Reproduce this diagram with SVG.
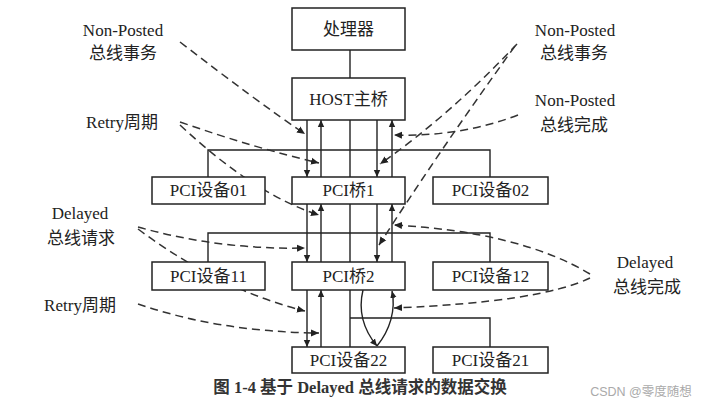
<svg xmlns="http://www.w3.org/2000/svg" width="703" height="405" viewBox="0 0 703 405">
<style>
.box{fill:#fff;stroke:#222;stroke-width:1.5}
.ln{fill:none;stroke:#222;stroke-width:1.4}
.ds{fill:none;stroke:#333;stroke-width:1.5;stroke-dasharray:8 5}
.t{font-family:"Liberation Serif","Noto Sans CJK SC",serif;font-size:17px;fill:#222;text-anchor:middle}
.bt{font-family:"Liberation Serif","Noto Sans CJK SC",serif;font-size:17px;fill:#222;text-anchor:middle}
.cap{font-family:"Liberation Serif","Noto Sans CJK SC",serif;font-size:16.5px;font-weight:bold;fill:#333;text-anchor:middle}
.wm{font-family:"Liberation Sans","Noto Sans CJK SC",sans-serif;font-size:12.5px;fill:#aaa;text-anchor:middle}
</style>
<defs>
<marker id="ah" markerWidth="8" markerHeight="8" refX="7" refY="4" orient="auto" markerUnits="userSpaceOnUse">
<path d="M0,0.8 L7,4 L0,7.2 z" fill="#222"/>
</marker>
<marker id="dh" markerWidth="9" markerHeight="9" refX="8" refY="4.5" orient="auto" markerUnits="userSpaceOnUse">
<path d="M0,1 L8,4.5 L0,8 z" fill="#222"/>
</marker>
</defs>

<g id="connectors">
<path class="ln" d="M350,50 V78"/>
<path class="ln" d="M307,120 V177" marker-end="url(#ah)"/>
<path class="ln" d="M321,177 V120" marker-end="url(#ah)"/>
<path class="ln" d="M350,120 V177"/>
<path class="ln" d="M377,120 V177" marker-end="url(#ah)"/>
<path class="ln" d="M392,177 V120" marker-end="url(#ah)"/>
<path class="ln" d="M208,177 V150 H490 V177"/>
<path class="ln" d="M307,204 V262" marker-end="url(#ah)"/>
<path class="ln" d="M321,262 V204" marker-end="url(#ah)"/>
<path class="ln" d="M350,204 V262"/>
<path class="ln" d="M377,204 V262" marker-end="url(#ah)"/>
<path class="ln" d="M392,262 V204" marker-end="url(#ah)"/>
<path class="ln" d="M208,262 V233 H490 V262"/>
<path class="ln" d="M307,290 V347" marker-end="url(#ah)"/>
<path class="ln" d="M321,347 V290" marker-end="url(#ah)"/>
<path class="ln" d="M350,290 V347"/>
<path class="ln" d="M363,290 C357,315 367,334 377,346" marker-end="url(#ah)"/>
<path class="ln" d="M377,346 C390,330 396,310 392,291" marker-end="url(#ah)"/>
<path class="ln" d="M350,318 H490 V347"/>

<path class="ds" d="M180,42 Q255,100 305,134" marker-end="url(#dh)"/>
<path class="ds" d="M180,122 Q255,148 319,163" marker-end="url(#dh)"/>
<path class="ds" d="M180,125 Q255,195 319,215" marker-end="url(#dh)"/>
<path class="ds" d="M138,227 Q220,250 305,248" marker-end="url(#dh)"/>
<path class="ds" d="M138,229 Q220,290 305,311" marker-end="url(#dh)"/>
<path class="ds" d="M138,304 Q220,332 319,333" marker-end="url(#dh)"/>
<path class="ds" d="M517,44 Q450,115 380,164" marker-end="url(#dh)"/>
<path class="ds" d="M515,46 Q440,150 379,245" marker-end="url(#dh)"/>
<path class="ds" d="M518,115 Q460,137 394,135" marker-end="url(#dh)"/>
<path class="ds" d="M590,274 Q520,232 394,225" marker-end="url(#dh)"/>
<path class="ds" d="M590,278 Q540,302 394,308" marker-end="url(#dh)"/>
</g>

<g id="n-cpu"><rect class="box" x="292" y="8" width="113" height="42"/><text class="bt" x="348.5" y="35">处理器</text></g>
<g id="n-host"><rect class="box" x="292" y="78" width="113" height="42"/><text class="bt" x="348.5" y="105">HOST主桥</text></g>
<g id="n-dev01"><rect class="box" x="152" y="177" width="113" height="27"/><text class="bt" x="208.5" y="196">PCI设备01</text></g>
<g id="n-br1"><rect class="box" x="292" y="177" width="113" height="27"/><text class="bt" x="348.5" y="196">PCI桥1</text></g>
<g id="n-dev02"><rect class="box" x="433" y="177" width="115" height="27"/><text class="bt" x="490.5" y="196">PCI设备02</text></g>
<g id="n-dev11"><rect class="box" x="152" y="262" width="113" height="28"/><text class="bt" x="208.5" y="282">PCI设备11</text></g>
<g id="n-br2"><rect class="box" x="292" y="262" width="113" height="28"/><text class="bt" x="348.5" y="282">PCI桥2</text></g>
<g id="n-dev12"><rect class="box" x="433" y="262" width="115" height="28"/><text class="bt" x="490.5" y="282">PCI设备12</text></g>
<g id="n-dev22"><rect class="box" x="292" y="347" width="113" height="26"/><text class="bt" x="348.5" y="366">PCI设备22</text></g>
<g id="n-dev21"><rect class="box" x="433" y="347" width="115" height="26"/><text class="bt" x="490.5" y="366">PCI设备21</text></g>

<g id="labels">
<text class="t" x="123" y="36">Non-Posted</text>
<text class="t" x="123" y="59">总线事务</text>
<text class="t" x="122" y="128">Retry周期</text>
<text class="t" x="80" y="219">Delayed</text>
<text class="t" x="81" y="244">总线请求</text>
<text class="t" x="80" y="311">Retry周期</text>
<text class="t" x="575" y="36">Non-Posted</text>
<text class="t" x="574" y="59">总线事务</text>
<text class="t" x="575" y="106">Non-Posted</text>
<text class="t" x="574" y="131">总线完成</text>
<text class="t" x="645" y="268">Delayed</text>
<text class="t" x="647" y="293">总线完成</text>
<text class="cap" x="360" y="393">图 1-4 基于 Delayed 总线请求的数据交换</text>
<text class="wm" x="641" y="396">CSDN @零度随想</text>
</g>
</svg>
